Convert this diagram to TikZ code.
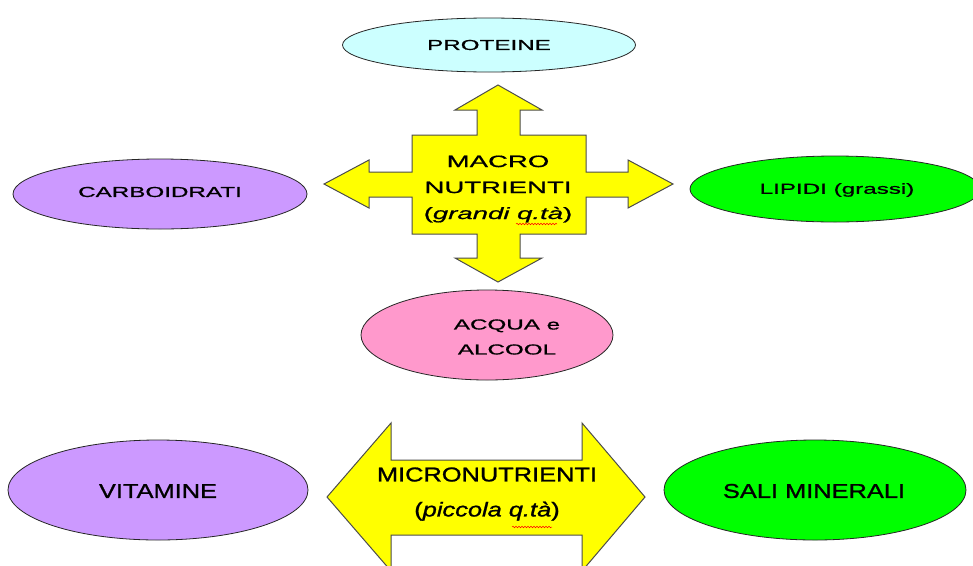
\documentclass[tikz,border=0pt]{standalone}
\usepackage{fontspec}
\usepackage{tikz}
\usetikzlibrary{shapes.geometric,decorations.pathmorphing}

\newfontfamily\upfont[FakeStretch=1.67,FakeBold=0.8]{Liberation Sans}
\newfontfamily\lowfont[FakeStretch=1.27,FakeBold=1.2]{Liberation Sans}

\definecolor{lilla}{HTML}{CC99FF}
\definecolor{celeste}{HTML}{CCFFFF}
\definecolor{verde}{HTML}{00FF00}
\definecolor{rosa}{HTML}{FF99CC}
\definecolor{giallo}{HTML}{FFFF00}

\begin{document}
\begin{tikzpicture}[x=1pt, y=-1pt,
        cibo/.style={ellipse, draw=black!85, line width=0.8pt, inner sep=0pt},
        piccolo/.style={font=\upfont\fontsize{14.5}{25}\selectfont, align=center},
        grande/.style={font=\lowfont\fontsize{20}{35}\selectfont, align=center},
        freccia/.style={fill=giallo, draw=black!70, line width=1pt, line join=miter},
        errore/.style={red, line width=0.5pt, decorate,
            decoration={snake, segment length=3pt, amplitude=0.8pt}}]
        \clip (0,0) rectangle (973,565);
        \fill[white] (0,0) rectangle (973,565);

        % macronutrienti
        \draw[freccia] (498,85) -- (542,110) -- (520,110) -- (520,135) -- (586,135)
            -- (586,172) -- (628,172) -- (628,160) -- (673,184) -- (628,208)
            -- (628,197) -- (586,197) -- (586,234) -- (520,234) -- (520,258)
            -- (542,258) -- (498,282) -- (455,258) -- (477,258) -- (477,234)
            -- (412,234) -- (412,197) -- (369,197) -- (369,208) -- (324,184)
            -- (369,160) -- (369,172) -- (412,172) -- (412,135) -- (477,135)
            -- (477,110) -- (455,110) -- cycle;
        \node[piccolo, font=\upfont\fontsize{16.5}{26}\selectfont] (macro) at (498,189)
            {MACRO\\NUTRIENTI\\({\itshape grandi q.tà})};
        \draw[errore] (516,224) -- (557,224);

        \node[cibo, fill=celeste, minimum width=293, minimum height=54] (proteine) at (489,45) {};
        \node[piccolo] at (proteine) {PROTEINE};
        \node[cibo, fill=lilla, minimum width=294, minimum height=70] (carboidrati) at (160,194) {};
        \node[piccolo] at (160,192) {CARBOIDRATI};
        \node[cibo, fill=verde, minimum width=290, minimum height=66] (lipidi) at (835,189) {};
        \node[piccolo] at (837,190) {LIPIDI (grassi)};
        \node[cibo, fill=rosa, minimum width=252, minimum height=90] (acqua) at (487,335) {};
        \node[piccolo] at (507,337) {ACQUA e\\ALCOOL};

        % micronutrienti
        \draw[freccia] (327,497) -- (391,423) -- (391,460) -- (582,460) -- (582,423)
            -- (645,497) -- (582,571) -- (582,535) -- (391,535) -- (391,571) -- cycle;
        \node[grande] (micro) at (487,494) {MICRONUTRIENTI\\({\itshape piccola q.tà})};
        \draw[errore] (512,527) -- (552,527);

        \node[cibo, fill=lilla, minimum width=300, minimum height=100] (vitamine) at (158,490) {};
        \node[grande] at (158,491) {VITAMINE};
        \node[cibo, fill=verde, minimum width=302, minimum height=100] (sali) at (815,490) {};
        \node[grande] at (814,491) {SALI MINERALI};
    \end{tikzpicture}
\end{document}
